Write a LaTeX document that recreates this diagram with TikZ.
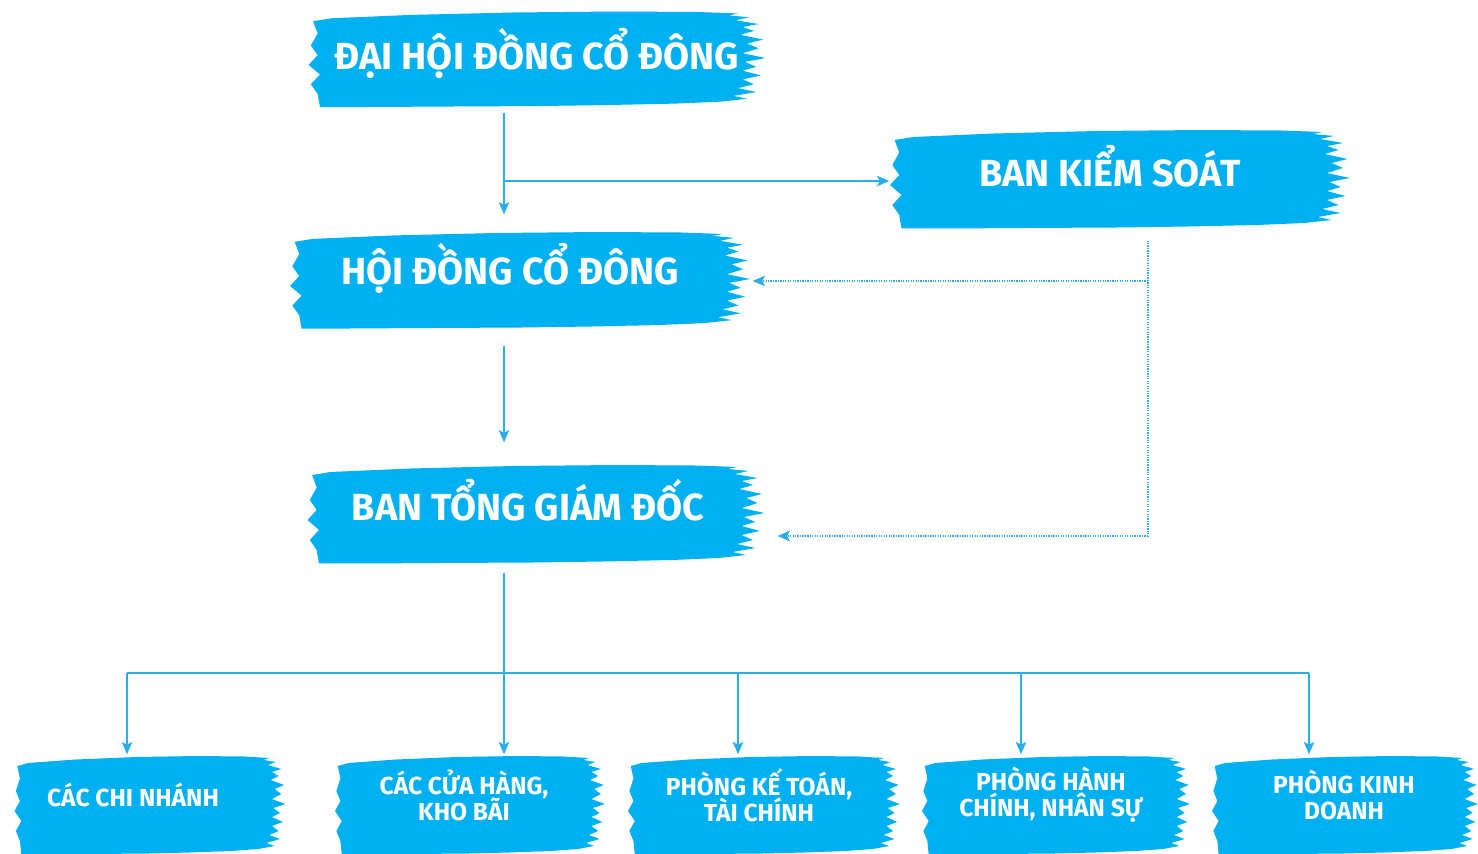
\documentclass[tikz,border=0pt]{standalone}
\usepackage{fontspec}
\setmainfont{Fira Sans}
\usepackage{tikz}
\usetikzlibrary{arrows.meta}
\usetikzlibrary{backgrounds}
\definecolor{brushblue}{RGB}{0,176,240}
\definecolor{lineblue}{RGB}{41,174,232}
\newcommand{\tightlines}{\lineskiplimit=-10pt\relax}
\tikzstyle{arrow}=[->,>={Stealth[length=7pt,width=6pt,inset=1.5pt]}]
\tikzstyle{solidline}=[lineblue]
\tikzstyle{dotline}=[lineblue,line width=0.7pt,dash pattern=on 0.7pt off 0.7pt]
\tikzstyle{bigbox}=[text=white,font=\bfseries\fontsize{21.5}{24}\selectfont,
  minimum width=9.14cm,minimum height=1.92cm,inner sep=0pt]
\tikzstyle{smallbox}=[text=white,font=\bfseries\fontsize{14}{14.7}\selectfont\tightlines,
  align=center,minimum width=5.4cm,minimum height=1.96cm,inner sep=0pt]
\tikzset{every picture/.style={
    line width=0.8pt
  }
}

% brush stroke behind a label: node, offset, half width, half height
\newcommand{\brush}[4]{%
  \begin{scope}[shift={(#1.center)},shift={(#2)},x=#3,y=#4]
    \fill[brushblue] (-0.98,0.80) -- (-0.9,0.86) -- (-0.55,0.93) -- (-0.1,0.98)
      -- (0.35,1.0) -- (0.7,0.99) -- (0.88,0.96) -- (0.84,0.92) -- (0.93,0.88)
      -- (0.87,0.82) -- (0.97,0.74) -- (0.9,0.68) -- (0.95,0.6) -- (0.89,0.52)
      -- (0.99,0.42) -- (0.92,0.34) -- (0.97,0.24) -- (0.9,0.14) -- (1.0,0.04)
      -- (0.91,-0.04) -- (0.96,-0.14) -- (0.9,-0.22) -- (0.98,-0.32) -- (0.9,-0.4)
      -- (0.95,-0.5) -- (0.88,-0.58) -- (0.96,-0.66) -- (0.86,-0.74) -- (0.92,-0.8)
      -- (0.8,-0.86) -- (0.6,-0.9) -- (0.3,-0.93) -- (0,-0.95) -- (-0.4,-0.96)
      -- (-0.75,-0.97) -- (-0.95,-0.97) -- (-0.96,-0.7) -- (-0.99,-0.5)
      -- (-0.95,-0.3) -- (-1.0,-0.1) -- (-0.96,0.1) -- (-0.99,0.3) -- (-0.96,0.55)
      -- cycle;
  \end{scope}}

\begin{document}
\begin{tikzpicture}[x=0.02cm,y=-0.02cm]
  \useasboundingbox (0,0) rectangle (1478,854);

  \node[bigbox] (dhcd) at (537,53) {ĐẠI HỘI ĐỒNG CỔ ĐÔNG};
  \node[bigbox] (bks) at (1110,166) {BAN KIỂM SOÁT};
  \node[bigbox] (hdcd) at (510,268) {HỘI ĐỒNG CỔ ĐÔNG};
  \node[bigbox] (btgd) at (528,500) {BAN TỔNG GIÁM ĐỐC};

  \node[smallbox] (b1) at (133,795) {CÁC CHI NHÁNH};
  \node[smallbox] (b2) at (464,795) {CÁC CỬA HÀNG,\\KHO BÃI};
  \node[smallbox] (b3) at (759,795) {PHÒNG KẾ TOÁN,\\TÀI CHÍNH};
  \node[smallbox] (b4) at (1051,795) {PHÒNG HÀNH\\CHÍNH, NHÂN SỰ};
  \node[smallbox] (b5) at (1344,795) {PHÒNG KINH\\DOANH};

  \begin{scope}[on background layer]
    \brush{dhcd}{0cm,-0.14cm}{4.57cm}{0.97cm}
    \brush{bks}{0.2cm,-0.28cm}{4.6cm}{1.0cm}
    \brush{hdcd}{0.2cm,-0.26cm}{4.6cm}{0.98cm}
    \brush{btgd}{0.16cm,-0.3cm}{4.57cm}{1.0cm}
    \brush{b1}{0.34cm,-0.22cm}{2.71cm}{1.0cm}
    \brush{b2}{0.12cm,-0.22cm}{2.7cm}{1.0cm}
    \brush{b3}{0.1cm,-0.22cm}{2.72cm}{1.0cm}
    \brush{b4}{0.1cm,-0.22cm}{2.68cm}{1.0cm}
    \brush{b5}{0.02cm,-0.22cm}{2.66cm}{1.0cm}
  \end{scope}

  \coordinate (j1) at (504,181);
  \coordinate (k1) at (1148,281);
  \coordinate (k2) at (1148,536);
  \coordinate (bus) at (504,673);

  \draw[solidline,arrow,shorten <=6.2pt,shorten >=2.8pt] (dhcd.south -| j1) -- (hdcd.north -| j1);
  \draw[solidline,arrow,shorten >=-4.8pt] (j1) -- (bks.west |- j1);
  \draw[solidline,arrow,shorten <=16.4pt,shorten >=5.1pt] (hdcd.south -| j1) -- (btgd.north -| j1);

  \draw[dotline,shorten <=14.7pt] (bks.south -| k1) -- (k2);
  \draw[dotline,arrow,shorten >=7.7pt] (k1) -- (hdcd.east |- k1);
  \draw[dotline,arrow,shorten >=11.6pt] (k2) -- (btgd.east |- k2);

  \draw[solidline,shorten <=13.6pt] (btgd.south -| bus) -- (bus);
  \draw[solidline] (127,673) -- (1309,673);
  \foreach \n/\x in {b1/127,b2/504,b3/738,b4/1021,b5/1309}
    \draw[solidline,arrow,shorten >=-5.1pt] (\x,673) -- (\x,673 |- \n.north);
\end{tikzpicture}
\end{document}
